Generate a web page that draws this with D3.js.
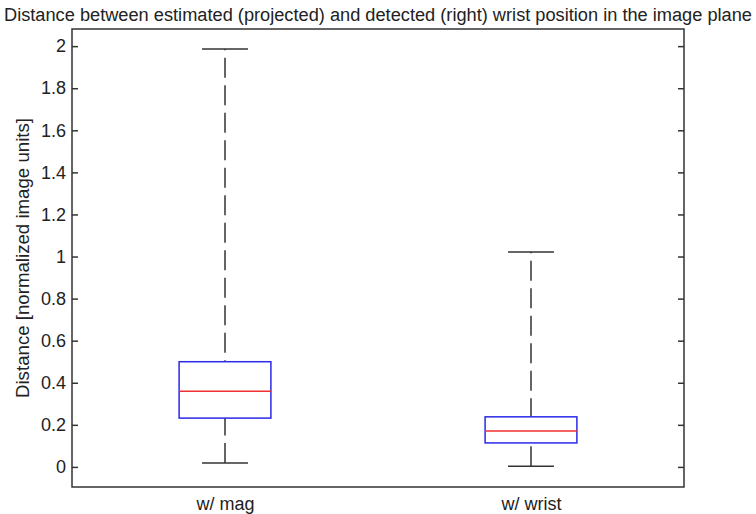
<!DOCTYPE html>
<html>
<head>
<meta charset="utf-8">
<script src="https://cdn.jsdelivr.net/npm/d3@7"></script>
<style>
  html, body { margin: 0; padding: 0; background: #fff; }
  svg { display: block; }
  text { font-family: "Liberation Sans", Arial, sans-serif; fill: #222; }
</style>
</head>
<body>
<svg id="chart" width="756" height="514"></svg>
<script>
const categories = ["w/ mag", "w/ wrist"];
const lowerWhisker = [0.019, 0.003];
const q1 = [0.232, 0.114];
const median = [0.360, 0.171];
const q3 = [0.500, 0.238];
const upperWhisker = [1.987, 1.022];
const yTicks = [0, 0.2, 0.4, 0.6, 0.8, 1, 1.2, 1.4, 1.6, 1.8, 2];
const title = "Distance between estimated (projected) and detected (right) wrist position in the image plane";
const yLabel = "Distance [normalized image units]";

const svg = d3.select("#chart");
const m = {left: 72, right: 684, top: 29, bottom: 487};

const x = d3.scaleLinear().domain([0.5, 2.5]).range([m.left, m.right]);
const y = d3.scaleLinear().domain([-0.0955, 2.0815]).range([m.bottom, m.top]);

const axisColor = "#333";
const boxHalf = 0.15, capHalf = 0.075;

// frame
svg.append("rect")
  .attr("x", m.left).attr("y", m.top)
  .attr("width", m.right - m.left).attr("height", m.bottom - m.top)
  .attr("fill", "none").attr("stroke", axisColor).attr("stroke-width", 1.5);

// y axes (left and right, ticks inward)
const yl = svg.append("g").attr("transform", `translate(${m.left},0)`)
  .call(d3.axisRight(y).tickValues(yTicks).tickSize(6).tickFormat(d3.format("~g")));
yl.select(".domain").remove();
yl.selectAll("line").attr("stroke", axisColor).attr("stroke-width", 1.5);
yl.selectAll("text").attr("x", -6).attr("text-anchor", "end")
  .style("font-size", "18px").attr("fill", "#222");

const yr = svg.append("g").attr("transform", `translate(${m.right},0)`)
  .call(d3.axisLeft(y).tickValues(yTicks).tickSize(6).tickFormat(""));
yr.select(".domain").remove();
yr.selectAll("line").attr("stroke", axisColor).attr("stroke-width", 1.5);

// x tick labels
const xa = svg.append("g").attr("transform", `translate(0,${m.bottom})`)
  .call(d3.axisBottom(x).tickValues([1, 2]).tickSize(0).tickFormat((d, i) => categories[i]));
xa.select(".domain").remove();
xa.selectAll("text").attr("y", 10).style("font-size", "18px").attr("fill", "#222");

// boxes
categories.forEach((c, i) => {
  const cx = i + 1;
  const g = svg.append("g");
  g.append("line")
    .attr("x1", x(cx)).attr("x2", x(cx))
    .attr("y1", y(upperWhisker[i])).attr("y2", y(q3[i]))
    .attr("stroke", "#333").attr("stroke-width", 1.5)
    .attr("stroke-dasharray", "20,7.5").attr("stroke-dashoffset", 18.7);
  g.append("line")
    .attr("x1", x(cx)).attr("x2", x(cx))
    .attr("y1", y(lowerWhisker[i])).attr("y2", y(q1[i]))
    .attr("stroke", "#333").attr("stroke-width", 1.5)
    .attr("stroke-dasharray", "20,7.5");
  [upperWhisker[i], lowerWhisker[i]].forEach(v => {
    g.append("line")
      .attr("x1", x(cx - capHalf)).attr("x2", x(cx + capHalf))
      .attr("y1", y(v)).attr("y2", y(v))
      .attr("stroke", "#333").attr("stroke-width", 1.5);
  });
  g.append("rect")
    .attr("x", x(cx - boxHalf)).attr("y", y(q3[i]))
    .attr("width", x(cx + boxHalf) - x(cx - boxHalf))
    .attr("height", y(q1[i]) - y(q3[i]))
    .attr("fill", "none").attr("stroke", "#2a2ae8").attr("stroke-width", 1.5);
  g.append("line")
    .attr("x1", x(cx - boxHalf)).attr("x2", x(cx + boxHalf))
    .attr("y1", y(median[i])).attr("y2", y(median[i]))
    .attr("stroke", "#f03030").attr("stroke-width", 1.5);
});

// title
svg.append("text")
  .attr("x", 378).attr("y", 21)
  .attr("text-anchor", "middle")
  .attr("textLength", 748).attr("lengthAdjust", "spacingAndGlyphs")
  .style("font-size", "18px")
  .text(title);

// y label
svg.append("text")
  .attr("transform", `translate(29,${(m.top + m.bottom) / 2}) rotate(-90)`)
  .attr("text-anchor", "middle")
  .attr("textLength", 280).attr("lengthAdjust", "spacingAndGlyphs")
  .style("font-size", "18px")
  .text(yLabel);
</script>
</body>
</html>
